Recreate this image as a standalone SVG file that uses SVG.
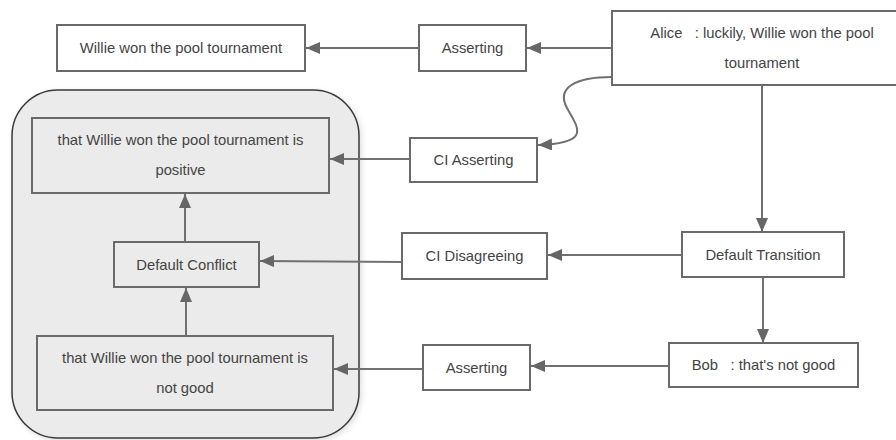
<svg xmlns="http://www.w3.org/2000/svg" width="896" height="440" viewBox="0 0 896 440">
<defs>
<style>
.box{fill:#ffffff;stroke:#6a6a6a;stroke-width:2}
.ibox{fill:#ebebeb;stroke:#6a6a6a;stroke-width:2}
.t{font-family:"Liberation Sans",Arial,sans-serif;font-size:14.8px;fill:#444;text-anchor:middle;dominant-baseline:central}
.c{fill:none;stroke:#707070;stroke-width:2}
</style>
<marker id="ah" viewBox="0 0 14 12" refX="14" refY="6" markerWidth="14" markerHeight="12" markerUnits="userSpaceOnUse" orient="auto">
<path d="M0,0 L14,6 L0,12 Z" fill="#666"/>
</marker>
<filter id="sh" x="-10%" y="-10%" width="120%" height="120%">
<feGaussianBlur stdDeviation="3"/>
</filter>
</defs>
<rect width="896" height="440" fill="#ffffff"/>
<g id="group">
<rect x="14" y="92" width="347" height="348" rx="46" fill="#d8d8d8" filter="url(#sh)"/>
<rect x="12" y="90" width="347" height="348" rx="46" fill="#ebebeb" stroke="#3a3a3a" stroke-width="1.5"/>
</g>
<g id="connectors">
<path class="c" d="M612,48 L527,48" marker-end="url(#ah)"/>
<path class="c" d="M419,48 L306,48" marker-end="url(#ah)"/>
<path class="c" d="M612,77 C575,77 556,88 567,108 C578,128 592,143 538,145" marker-end="url(#ah)"/>
<path class="c" d="M410,159 L330,159" marker-end="url(#ah)"/>
<path class="c" d="M762,85 L762,232" marker-end="url(#ah)"/>
<path class="c" d="M682,255 L548,255" marker-end="url(#ah)"/>
<path class="c" d="M402,262 L260,261" marker-end="url(#ah)"/>
<path class="c" d="M185,242 L185,194" marker-end="url(#ah)"/>
<path class="c" d="M763,277 L763,343" marker-end="url(#ah)"/>
<path class="c" d="M669,366 L531,366" marker-end="url(#ah)"/>
<path class="c" d="M423,369 L334,369" marker-end="url(#ah)"/>
<path class="c" d="M186,336 L186,288" marker-end="url(#ah)"/>
</g>
<g id="willie">
<rect class="box" x="57" y="25" width="248" height="46"/>
<text class="t" x="181" y="48">Willie won the pool tournament</text>
</g>
<g id="asserting1">
<rect class="box" x="419" y="25" width="107" height="46"/>
<text class="t" x="472.5" y="48">Asserting</text>
</g>
<g id="alice">
<rect class="box" x="612" y="11" width="300" height="74"/>
<text class="t" x="762" y="33" xml:space="preserve">Alice   : luckily, Willie won the pool</text>
<text class="t" x="762" y="63">tournament</text>
</g>
<g id="positive">
<rect class="ibox" x="32" y="118" width="297" height="75"/>
<text class="t" x="180.5" y="140">that Willie won the pool tournament is</text>
<text class="t" x="180.5" y="170">positive</text>
</g>
<g id="ciasserting">
<rect class="box" x="410" y="138" width="127" height="44"/>
<text class="t" x="473.5" y="160">CI Asserting</text>
</g>
<g id="conflict">
<rect class="ibox" x="114" y="242" width="145" height="45"/>
<text class="t" x="186.5" y="264.5">Default Conflict</text>
</g>
<g id="cidisagreeing">
<rect class="box" x="402" y="233" width="145" height="46"/>
<text class="t" x="474.5" y="256">CI Disagreeing</text>
</g>
<g id="transition">
<rect class="box" x="682" y="232" width="162" height="45"/>
<text class="t" x="763" y="254.5">Default Transition</text>
</g>
<g id="notgood">
<rect class="ibox" x="37" y="336" width="296" height="74"/>
<text class="t" x="185" y="358">that Willie won the pool tournament is</text>
<text class="t" x="185" y="388">not good</text>
</g>
<g id="asserting2">
<rect class="box" x="423" y="345" width="107" height="45"/>
<text class="t" x="476.5" y="367.5">Asserting</text>
</g>
<g id="bob">
<rect class="box" x="669" y="343" width="189" height="44"/>
<text class="t" x="763.5" y="365" xml:space="preserve">Bob   : that's not good</text>
</g>
</svg>
